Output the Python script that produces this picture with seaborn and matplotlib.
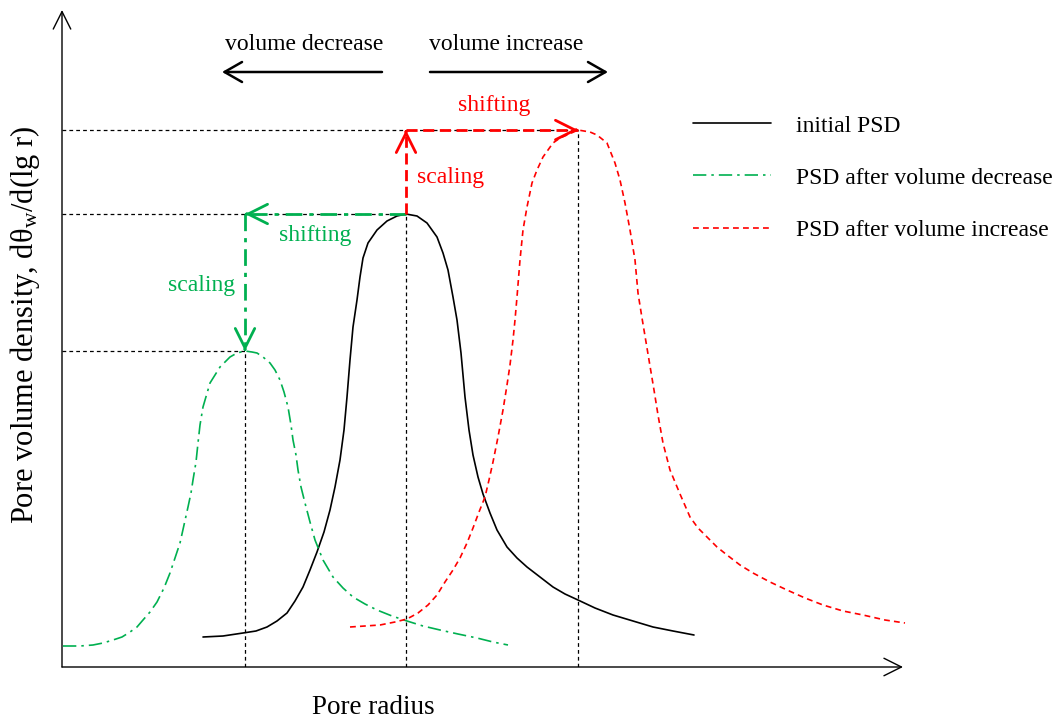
import numpy as np
import pandas as pd
import matplotlib
matplotlib.use("Agg")
import matplotlib.pyplot as plt
import seaborn as sns

# ---- data (arbitrary units: pore radius vs density) ----
initial_x = [141, 161, 181, 194, 205, 215, 225, 233, 241, 248, 255, 262, 268, 273, 278, 282,
             285, 288, 291, 295, 298, 301, 306, 315, 325, 335, 344, 355, 365, 375, 381, 386,
             391, 395, 399, 403, 407, 411, 416, 421, 428, 435, 445, 455, 465, 478, 491, 503,
             516, 533, 551, 571, 591, 611, 632]
initial_y = [30, 31, 34, 36, 40, 46, 54, 66, 80, 97, 115, 135, 157, 180, 207, 237,
             270, 307, 340, 367, 390, 409, 424, 437, 446, 451, 453, 451, 444, 430, 414, 397,
             370, 347, 314, 270, 237, 212, 190, 173, 154, 137, 120, 109, 100, 90, 80, 73,
             67, 59, 52, 46, 40, 36, 32]

decrease_x = [1, 18, 31, 41, 51, 60, 68, 75, 81, 88, 95, 102, 108, 113, 118, 122,
              126, 129, 131, 134, 136, 138, 141, 148, 158, 168, 175, 183, 190, 195, 201, 208,
              213, 218, 222, 226, 229, 231, 234, 236, 239, 243, 248, 253, 261, 271, 281, 291,
              303, 315, 330, 345, 361, 378, 396, 415, 431, 446]
decrease_y = [21, 21, 22, 24, 27, 30, 35, 40, 47, 55, 65, 79, 94, 109, 124, 142,
              160, 174, 187, 205, 224, 242, 260, 284, 300, 310, 314, 316, 315, 314, 310, 304,
              297, 287, 275, 260, 242, 227, 212, 197, 180, 164, 145, 127, 107, 90, 79, 70,
              63, 57, 51, 46, 41, 37, 33, 29, 25, 22]

increase_x = [288, 303, 318, 333, 345, 356, 366, 375, 383, 391, 398, 405, 411, 417, 423, 427,
              431, 436, 441, 445, 448, 451, 453, 455, 458, 461, 465, 470, 475, 481, 491, 498,
              505, 516, 528, 535, 545, 553, 558, 563, 568, 573, 576, 580, 584, 588, 592, 596,
              601, 608, 618, 628, 636, 645, 655, 665, 678, 691, 708, 725, 743, 761, 781, 801,
              823, 843]
increase_y = [40, 41, 42, 45, 48, 54, 62, 72, 85, 97, 109, 124, 139, 155, 170, 187,
              205, 230, 257, 282, 302, 327, 347, 370, 407, 437, 460, 484, 497, 510, 524, 529,
              532, 537, 535, 532, 524, 504, 487, 464, 437, 407, 374, 349, 325, 301, 277, 252,
              224, 197, 173, 150, 139, 130, 120, 112, 102, 94, 85, 77, 69, 62, 56, 52,
              47, 44]

series_labels = ["initial PSD", "PSD after volume decrease", "PSD after volume increase"]
x_label = "Pore radius"
y_label = "Pore volume density, d$\\mathregular{\\theta_w}$/d(lg r)"

GREEN = "#00b050"
RED = "#ff0000"

sns.set_theme(style="white")
plt.rcParams["font.family"] = ["Liberation Serif", "DejaVu Serif"]
plt.rcParams["mathtext.fontset"] = "custom"
plt.rcParams["mathtext.rm"] = "Liberation Serif"
plt.rcParams["mathtext.it"] = "Liberation Serif:italic"
plt.rcParams["text.color"] = "black"

W, H = 1061, 726
fig = plt.figure(figsize=(W / 100, H / 100), dpi=100)
fig.patch.set_facecolor("white")
ax = fig.add_axes([62 / W, 59 / H, 841 / W, 657 / H])
ax.set_xlim(0, 841)
ax.set_ylim(0, 657)
ax.set_facecolor("white")
for s in ax.spines.values():
    s.set_visible(False)
ax.set_xticks([])
ax.set_yticks([])

df_i = pd.DataFrame({"x": initial_x, "y": initial_y})
df_d = pd.DataFrame({"x": decrease_x, "y": decrease_y})
df_u = pd.DataFrame({"x": increase_x, "y": increase_y})

sns.lineplot(data=df_i, x="x", y="y", ax=ax, color="black", lw=1.2, sort=False,
             estimator=None, label=series_labels[0], clip_on=False)
sns.lineplot(data=df_d, x="x", y="y", ax=ax, color=GREEN, lw=1.2, sort=False,
             estimator=None, label=series_labels[1], clip_on=False,
             linestyle=(0, (8, 3, 1.5, 3)))
sns.lineplot(data=df_u, x="x", y="y", ax=ax, color=RED, lw=1.2, sort=False,
             estimator=None, label=series_labels[2], clip_on=False,
             linestyle=(0, (3.5, 2.5)))
ax.set_xlabel("")
ax.set_ylabel("")

# peaks
pk = {}
for name, d in (("i", df_i), ("d", df_d), ("u", df_u)):
    r = d.loc[d["y"].idxmax()]
    pk[name] = (float(r["x"]), float(r["y"]))

# dashed guide lines
for name in ("i", "d", "u"):
    px, py = pk[name]
    ax.plot([0, px], [py, py], color="black", lw=0.9, ls=(0, (3, 2.5)), zorder=1)
    ax.plot([px, px], [0, py], color="black", lw=0.9, ls=(0, (3, 2.5)), zorder=1)

# axis arrows
for xy in ((0, 657), (841, 0)):
    ax.annotate("", xy=xy, xytext=(0, 0), xycoords="data",
                arrowprops=dict(arrowstyle="->,head_length=0.7,head_width=0.35", lw=1.0,
                                color="black", shrinkA=0, shrinkB=0, mutation_scale=18),
                annotation_clip=False)


def path_arrow(p0, p1, color, ls):
    ax.plot([p0[0], p1[0]], [p0[1], p1[1]], color=color, lw=2.0, ls=ls, zorder=4,
            solid_capstyle="butt", dash_capstyle="butt")
    dx, dy = p1[0] - p0[0], p1[1] - p0[1]
    n = np.hypot(dx, dy)
    ax.annotate("", xy=p1, xytext=(p1[0] - dx / n * 2, p1[1] - dy / n * 2),
                arrowprops=dict(arrowstyle="->,head_length=0.7,head_width=0.35", lw=2.0,
                                color=color, shrinkA=0, shrinkB=0, mutation_scale=20),
                zorder=5)


ix, iy = pk["i"]
dx_, dy_ = pk["d"]
ux, uy = pk["u"]
green_ls = (0, (6, 2.5, 1.5, 2.5))
path_arrow((ix, iy), (dx_, iy), GREEN, green_ls)
path_arrow((dx_, iy), (dx_, dy_), GREEN, green_ls)
red_ls = (0, (4, 2))
path_arrow((ix, iy), (ix, uy), RED, red_ls)
path_arrow((ix, uy), (ux, uy), RED, red_ls)

fs = 17
ax.text(432, 562, "shifting", color=RED, fontsize=fs, ha="center", va="center")
ax.text(355, 490, "scaling", color=RED, fontsize=fs, ha="left", va="center")
ax.text(253, 432, "shifting", color=GREEN, fontsize=fs, ha="center", va="center")
ax.text(140, 382, "scaling", color=GREEN, fontsize=fs, ha="center", va="center")

# top direction arrows
ax.text(242, 623, "volume decrease", fontsize=fs, ha="center", va="center")
ax.text(444, 623, "volume increase", fontsize=fs, ha="center", va="center")
ax.annotate("", xy=(160, 595), xytext=(320, 595),
            arrowprops=dict(arrowstyle="->,head_length=0.7,head_width=0.4", lw=1.8,
                            color="black", shrinkA=0, shrinkB=0, mutation_scale=18),
            annotation_clip=False)
ax.annotate("", xy=(546, 595), xytext=(368, 595),
            arrowprops=dict(arrowstyle="->,head_length=0.7,head_width=0.4", lw=1.8,
                            color="black", shrinkA=0, shrinkB=0, mutation_scale=18),
            annotation_clip=False)

leg = ax.legend(loc="upper left", bbox_to_anchor=(693 / W, 1 - 115 / H),
                bbox_transform=fig.transFigure, frameon=False, fontsize=fs,
                handlelength=3.3, handletextpad=1.06, labelspacing=1.3,
                borderpad=0, borderaxespad=0)

fig.text(25 / W, 1 - 325 / H, y_label, rotation=90, ha="center", va="center", fontsize=22)
fig.text(373 / W, 1 - 707 / H, x_label, ha="center", va="center", fontsize=19.5)

fig.savefig("out.png", dpi=100, facecolor="white")
